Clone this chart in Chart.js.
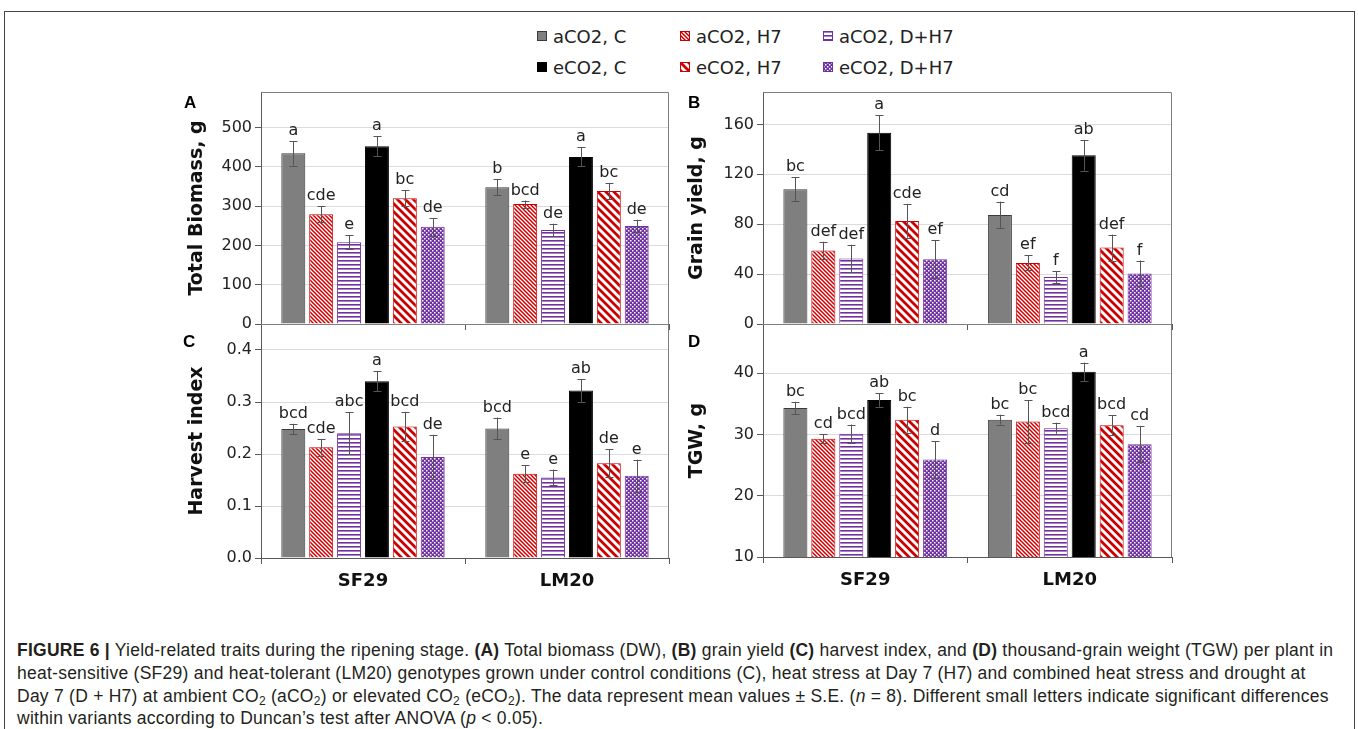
<!DOCTYPE html>
<html lang="en">
<head>
<meta charset="UTF-8">
<title>Figure 6 - yield-related traits</title>
<script src="https://cdn.jsdelivr.net/npm/chart.js"></script>
<style>
  body {margin:0;background:#fff;width:1358px;height:729px;overflow:hidden;position:relative;font-family:'DejaVu Sans',sans-serif}
  .frame {position:absolute;left:4px;top:11px;width:1351px;height:760px;border:1px solid #444;box-sizing:border-box}
  canvas.panel {position:absolute}
  .tag {position:absolute;font:bold 17px 'Liberation Sans',Arial,sans-serif;color:#000;line-height:1}
  .item {position:absolute;height:24px;display:flex;align-items:center;font-size:18px;color:#222;white-space:nowrap}
  .item canvas {margin-right:6px}
  .cap {position:absolute;left:17px;font:17.5px 'Liberation Sans',Arial,sans-serif;letter-spacing:0.25px;color:#231f20;white-space:nowrap;line-height:18px}
  .cap sub {font-size:12px;line-height:0;vertical-align:-3px}
</style>
</head>
<body>
<div class="frame"></div>
<div id="legend"></div>

<canvas class="panel" id="chA" width="520" height="256" style="left:170px;top:84px"></canvas>
<canvas class="panel" id="chB" width="520" height="256" style="left:670px;top:84px"></canvas>
<canvas class="panel" id="chC" width="520" height="282" style="left:170px;top:318px"></canvas>
<canvas class="panel" id="chD" width="520" height="282" style="left:670px;top:318px"></canvas>

<div class="tag" style="left:184px;top:94px">A</div>
<div class="tag" style="left:688px;top:94px">B</div>
<div class="tag" style="left:183px;top:333px">C</div>
<div class="tag" style="left:688px;top:333px">D</div>

<div class="cap" style="top:641px"><b>FIGURE 6 |</b> Yield-related traits during the ripening stage. <b>(A)</b> Total biomass (DW), <b>(B)</b> grain yield <b>(C)</b> harvest index, and <b>(D)</b> thousand-grain weight (TGW) per plant in</div>
<div class="cap" style="top:664px">heat-sensitive (SF29) and heat-tolerant (LM20) genotypes grown under control conditions (C), heat stress at Day 7 (H7) and combined heat stress and drought at</div>
<div class="cap" style="top:687px">Day 7 (D + H7) at ambient CO<sub>2</sub> (aCO<sub>2</sub>) or elevated CO<sub>2</sub> (eCO<sub>2</sub>). The data represent mean values ± S.E. (<i>n</i> = 8). Different small letters indicate significant differences</div>
<div class="cap" style="top:709px">within variants according to Duncan’s test after ANOVA (<i>p</i> &lt; 0.05).</div>

<script>
// genotypes and treatments
const groups = ['SF29', 'LM20'];
const series = ['aCO2, C', 'aCO2, H7', 'aCO2, D+H7', 'eCO2, C', 'eCO2, H7', 'eCO2, D+H7'];

// one row per treatment: [SF29, LM20]
const biomassMean = [[434, 348], [279, 305], [208, 239], [452, 425], [320, 338], [247, 249]];
const biomassErr  = [[31, 20], [20, 9], [18, 16], [26, 24], [20, 21], [22, 16]];
const biomassLetters = [['a', 'b'], ['cde', 'bcd'], ['e', 'de'], ['a', 'a'], ['bc', 'bc'], ['de', 'de']];

const grainMean = [[108, 87.4], [59, 49], [52.5, 37.6], [153.3, 135.2], [82.6, 61.3], [52, 40.5]];
const grainErr  = [[9.5, 10.7], [7, 6], [11, 4.8], [14, 12.2], [13.4, 10.4], [15, 10.4]];
const grainLetters = [['bc', 'cd'], ['def', 'ef'], ['def', 'f'], ['a', 'ab'], ['cde', 'def'], ['ef', 'f']];

const hiMean = [[0.248, 0.249], [0.213, 0.162], [0.240, 0.155], [0.340, 0.322], [0.253, 0.182], [0.194, 0.158]];
const hiErr  = [[0.010, 0.021], [0.016, 0.016], [0.040, 0.015], [0.019, 0.022], [0.028, 0.027], [0.043, 0.031]];
const hiLetters = [['bcd', 'bcd'], ['cde', 'e'], ['abc', 'e'], ['a', 'ab'], ['bcd', 'de'], ['de', 'e']];

const tgwMean = [[34.3, 32.4], [29.3, 32.1], [30.1, 31.0], [35.6, 40.2], [32.4, 31.5], [25.9, 28.4]];
const tgwErr  = [[1.0, 0.8], [0.7, 3.5], [1.5, 0.9], [1.1, 1.5], [2.1, 1.6], [3.0, 2.9]];
const tgwLetters = [['bc', 'bc'], ['cd', 'bc'], ['bcd', 'bcd'], ['ab', 'a'], ['bc', 'bcd'], ['d', 'cd']];

// y tick values
const ticksA = [0, 100, 200, 300, 400, 500];
const ticksB = [0, 40, 80, 120, 160];
const ticksC = [0, 0.1, 0.2, 0.3, 0.4];
const ticksD = [10, 20, 30, 40];

const RED = '#cc0000', PURPLE = '#7030a0';

function makePattern(kind) {
  const c = document.createElement('canvas');
  const g = c.getContext('2d');
  if (kind === 'fineDiag' || kind === 'wideDiag') {
    const n = kind === 'fineDiag' ? 4 : 8;
    c.width = c.height = n;
    g.fillStyle = '#fff'; g.fillRect(0, 0, n, n);
    g.strokeStyle = RED; g.lineWidth = kind === 'fineDiag' ? 1.5 : 2.8;
    g.beginPath();
    g.moveTo(-2, -2); g.lineTo(n + 2, n + 2);
    g.moveTo(n - 2, -2); g.lineTo(n + 2, 2);
    g.moveTo(-2, n - 2); g.lineTo(2, n + 2);
    g.stroke();
  } else if (kind === 'hLines') {
    c.width = 4; c.height = 4;
    g.fillStyle = '#fff'; g.fillRect(0, 0, 4, 4);
    g.fillStyle = PURPLE; g.fillRect(0, 0, 4, 1.6);
  } else {
    c.width = c.height = 4;
    g.fillStyle = PURPLE; g.fillRect(0, 0, 4, 4);
    g.fillStyle = '#fff'; g.fillRect(0, 0, 1.5, 1.5); g.fillRect(2, 2, 1.5, 1.5);
  }
  return g.createPattern(c, 'repeat');
}

const fills = ['#7f7f7f', makePattern('fineDiag'), makePattern('hLines'), '#000', makePattern('wideDiag'), makePattern('dots')];
const borders = ['#3a3a3a', RED, PURPLE, '#000', RED, PURPLE];

// legend (html, two rows of three)
const legend = document.getElementById('legend');
const legX = [537, 680, 823], legY = [24, 55];
series.forEach((name, i) => {
  const it = document.createElement('div');
  it.className = 'item';
  it.style.left = legX[i % 3] + 'px';
  it.style.top = legY[Math.floor(i / 3)] + 'px';
  const sw = document.createElement('canvas');
  sw.width = 10; sw.height = 10;
  const g = sw.getContext('2d');
  g.fillStyle = fills[i]; g.fillRect(0, 0, 10, 10);
  g.strokeStyle = borders[i]; g.strokeRect(0.5, 0.5, 9, 9);
  it.appendChild(sw);
  it.appendChild(document.createTextNode(name));
  legend.appendChild(it);
});

// frame top/right, error bars and letters
const extras = {
  id: 'extras',
  afterDatasetsDraw(chart) {
    const {ctx, chartArea: a, scales: {y}} = chart;
    ctx.save();
    ctx.strokeStyle = '#808080'; ctx.lineWidth = 1;
    ctx.beginPath();
    ctx.moveTo(a.left, a.top + 0.5); ctx.lineTo(a.right - 0.5, a.top + 0.5); ctx.lineTo(a.right - 0.5, a.bottom);
    ctx.stroke();
    ctx.font = '16px "DejaVu Sans"';
    ctx.textAlign = 'center'; ctx.textBaseline = 'alphabetic';
    chart.data.datasets.forEach((ds, i) => {
      chart.getDatasetMeta(i).data.forEach((bar, j) => {
        const v = ds.data[j], e = ds.err[j];
        const yt = y.getPixelForValue(v + e), yb = y.getPixelForValue(v - e);
        const x = Math.round(bar.x) + 0.5;
        ctx.strokeStyle = '#555';
        ctx.beginPath();
        ctx.moveTo(x, yt); ctx.lineTo(x, yb);
        ctx.moveTo(x - 4, Math.round(yt) + 0.5); ctx.lineTo(x + 4, Math.round(yt) + 0.5);
        ctx.moveTo(x - 4, Math.round(yb) + 0.5); ctx.lineTo(x + 4, Math.round(yb) + 0.5);
        ctx.stroke();
        ctx.fillStyle = '#222';
        ctx.fillText(ds.letters[j], bar.x, yt - 6);
      });
    });
    ctx.restore();
  }
};

function panel(id, mean, err, letters, ticks, yMin, yMax, title, showX, box) {
  new Chart(document.getElementById(id), {
    type: 'bar',
    data: {
      labels: groups,
      datasets: series.map((name, i) => ({
        label: name, data: mean[i], err: err[i], letters: letters[i],
        backgroundColor: fills[i], borderColor: borders[i], borderWidth: 1,
        categoryPercentage: 0.82, barPercentage: 0.86
      }))
    },
    options: {
      responsive: false, animation: false,
      layout: {padding: {left: 0, top: box.top, right: box.right, bottom: 0}},
      plugins: {legend: {display: false}, tooltip: {enabled: false}},
      scales: {
        x: {
          grid: {display: true, drawOnChartArea: false, drawTicks: true, tickLength: 6, tickColor: '#595959', offset: true},
          border: {color: '#595959'},
          ticks: {display: showX, color: '#111', padding: 7, font: {size: 18, weight: 'bold'}},
          afterFit: s => { s.height = box.xh; s.paddingLeft = 0; s.paddingRight = 0; }
        },
        y: {
          min: yMin, max: yMax,
          afterBuildTicks: s => { s.ticks = ticks.map(v => ({value: v})); },
          grid: {color: '#dcdcdc', tickLength: 6, tickColor: '#595959'},
          border: {color: '#595959'},
          ticks: {color: '#222', padding: 3, font: {size: 16},
                  callback: v => yMax < 1 ? v.toFixed(1) : v},
          title: {display: true, text: title, color: '#111', font: {size: 19, weight: 'bold'}, padding: {top: 16, bottom: 0}},
          afterFit: s => { s.width = box.yw; s.paddingTop = 0; s.paddingBottom = 0; }
        }
      }
    },
    plugins: [extras]
  });
}

Chart.defaults.font.family = "'DejaVu Sans', Verdana, sans-serif";

panel('chA', biomassMean, biomassErr, biomassLetters, ticksA, 0, 590, 'Total Biomass, g', false, {top: 8, right: 21, xh: 16, yw: 91});
panel('chB', grainMean, grainErr, grainLetters, ticksB, 0, 186, 'Grain yield, g', false, {top: 8, right: 18, xh: 16, yw: 93});
panel('chC', hiMean, hiErr, hiLetters, ticksC, 0, 0.45, 'Harvest index', true, {top: 6, right: 21, xh: 42, yw: 91});
panel('chD', tgwMean, tgwErr, tgwLetters, ticksD, 10, 48, 'TGW, g', true, {top: 6, right: 18, xh: 43, yw: 93});
</script>
</body>
</html>
